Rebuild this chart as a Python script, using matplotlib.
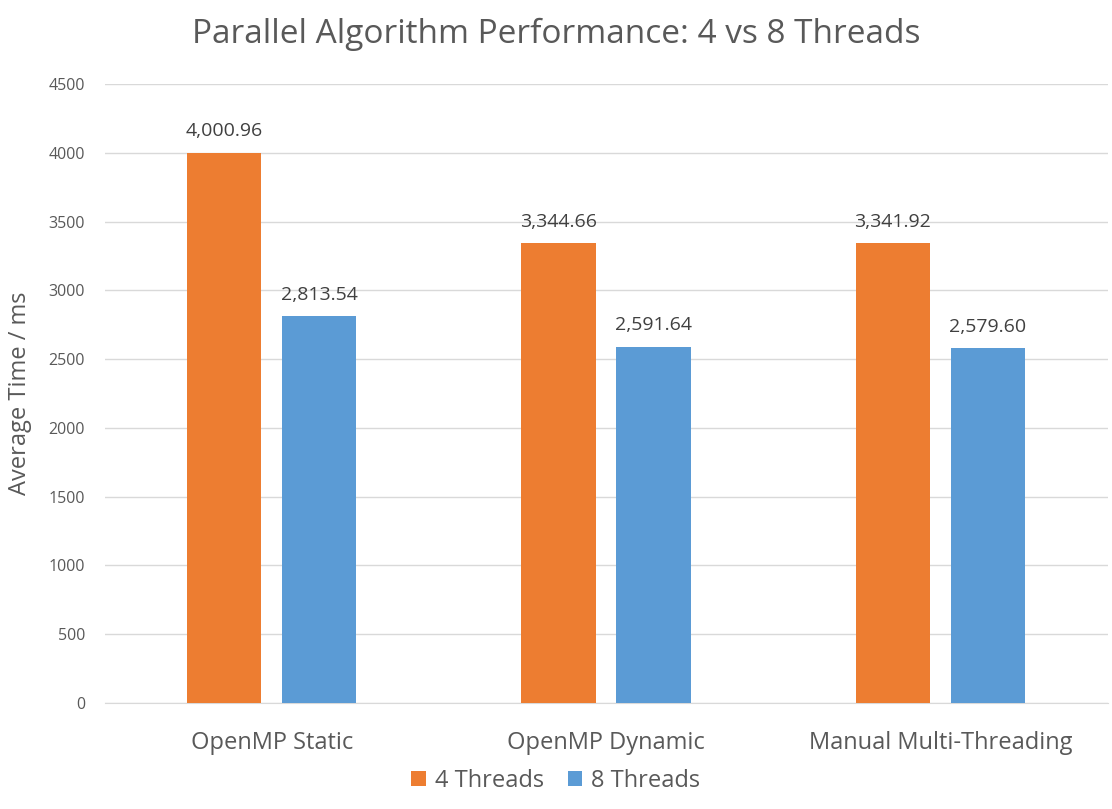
import matplotlib.pyplot as plt
import numpy as np

plt.rcParams['font.family'] = ['Open Sans', 'DejaVu Sans']

# Data
categories = ['OpenMP Static', 'OpenMP Dynamic', 'Manual Multi-Threading']
threads4 = [4000.96, 3344.66, 3341.92]
threads8 = [2813.54, 2591.64, 2579.60]
series_names = ['4 Threads', '8 Threads']
yticks = [0, 500, 1000, 1500, 2000, 2500, 3000, 3500, 4000, 4500]

text_col = '#595959'
orange = '#ED7D31'
blue = '#5B9BD5'

fig = plt.figure(figsize=(11.12, 8.09), dpi=100)
ax = fig.add_axes([0.094, 0.131, 0.902, 0.765])

x = np.arange(len(categories))
w = 0.222
off = 0.142
b1 = ax.bar(x - off, threads4, w, color=orange, label=series_names[0], zorder=3)
b2 = ax.bar(x + off, threads8, w, color=blue, label=series_names[1], zorder=3)

for bars in (b1, b2):
    for r in bars:
        h = r.get_height()
        ax.text(r.get_x() + r.get_width() / 2, h + 90, f'{h:,.2f}',
                ha='center', va='bottom', fontsize=14, color='#404040')

ax.set_xlim(-0.5, 2.5)
ax.set_ylim(0, 4500)
ax.set_yticks(yticks)
ax.set_yticklabels([str(t) for t in yticks], fontsize=11.5, color=text_col)
ax.set_xticks(x)
ax.set_xticklabels(categories, fontsize=17, color=text_col)
ax.tick_params(axis='both', length=0)
ax.tick_params(axis='x', pad=20)
ax.tick_params(axis='y', pad=14)
ax.grid(axis='y', color='#D9D9D9', linewidth=1, zorder=0)
for s in ['top', 'right', 'left']:
    ax.spines[s].set_visible(False)
ax.spines['bottom'].set_color('#D9D9D9')

ax.set_ylabel('Average Time / ms', fontsize=17, color=text_col, labelpad=12)
fig.suptitle('Parallel Algorithm Performance: 4 vs 8 Threads', fontsize=24,
             color=text_col, y=0.978, x=0.5)

fig.legend(loc='lower center', bbox_to_anchor=(0.5, -0.006), ncol=2, frameon=False,
           fontsize=17, labelcolor=text_col, handlelength=0.6, handleheight=0.6,
           columnspacing=1.0, handletextpad=0.4)

plt.savefig('out.png', dpi=100)
